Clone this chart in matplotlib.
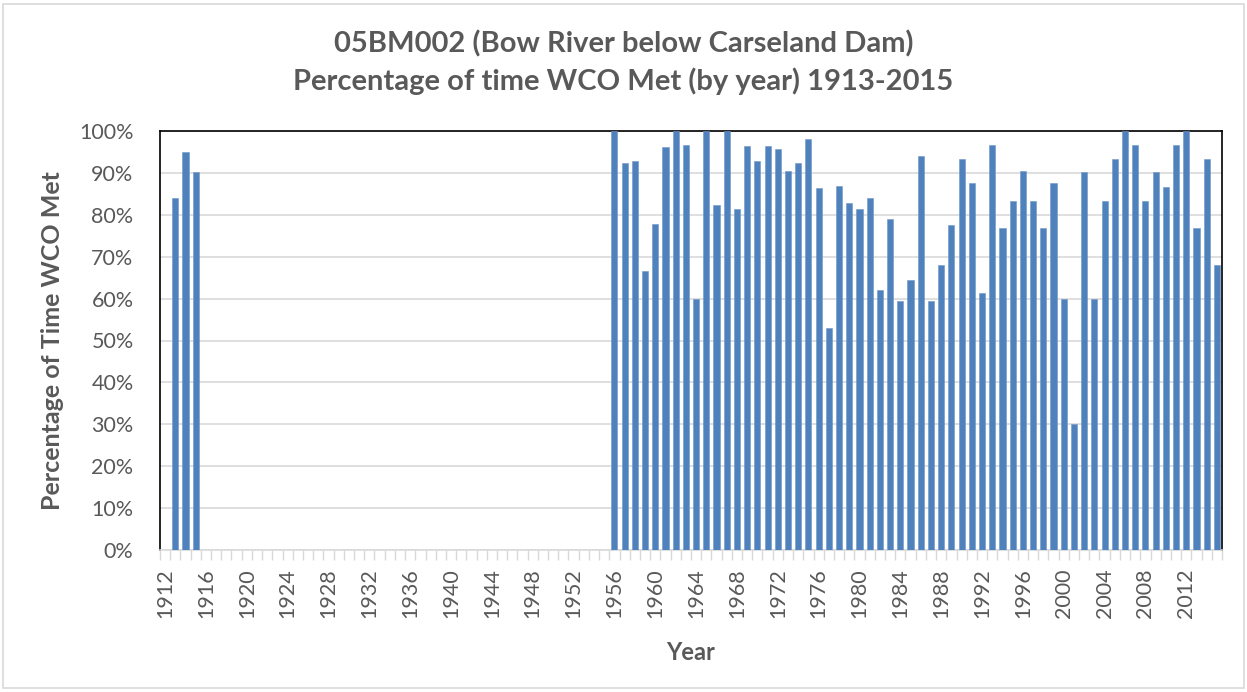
import matplotlib.pyplot as plt
from matplotlib.ticker import FixedLocator, PercentFormatter
from matplotlib.patches import Rectangle

# years with data (1912 and 1916-1955 are empty categories)
years = [1913, 1914, 1915] + list(range(1956, 2016))
# percentage of time WCO met
pct_met = [84.1, 94.9, 90.1,
           100, 92.4, 92.8, 66.7, 77.8, 96.2, 100, 96.7, 59.9, 100,
           82.3, 100, 81.5, 96.5, 92.8, 96.5, 95.6, 90.4, 92.3, 98.0,
           86.5, 53.1, 86.8, 82.8, 81.5, 83.9, 62.1, 78.9, 59.4, 64.4,
           94.1, 59.4, 67.9, 77.6, 93.2, 87.5, 61.3, 96.7, 76.8, 83.4,
           90.4, 83.4, 76.8, 87.5, 59.9, 30.0, 90.1, 59.9, 83.4, 93.2,
           100, 96.7, 83.4, 90.1, 86.7, 96.7, 100, 76.8, 93.2, 67.9]
first_year = 1912
last_year = 2015
label_years = list(range(1912, 2016, 4))

grey = '#595959'
bar_color = '#4f81bd'
plt.rcParams['font.family'] = ['Lato', 'DejaVu Sans']

fig = plt.figure(figsize=(12.47, 6.92), dpi=100)
ax = fig.add_axes([160 / 1247, 1 - 550 / 692, (1222 - 160) / 1247, (550 - 131) / 692])

ax.bar(years, pct_met, width=0.6, color=bar_color, edgecolor='#6f97c9',
       linewidth=0.4, zorder=3)

ax.set_xlim(first_year - 0.5, last_year + 0.5)
ax.set_ylim(0, 100)
ax.yaxis.set_major_locator(FixedLocator(range(0, 101, 10)))
ax.yaxis.set_major_formatter(PercentFormatter(100, decimals=0))
ax.grid(axis='y', color='#d9d9d9', linewidth=1.2, zorder=0)

# labels every 4 years, small tick marks on every category boundary
ax.set_xticks(label_years)
ax.set_xticklabels([str(y) for y in label_years], rotation=90)
ax.set_xticks([y - 0.5 for y in range(first_year, last_year + 2)], minor=True)
ax.tick_params(axis='x', which='major', length=0, pad=13, labelsize=15.5, labelcolor=grey)
ax.tick_params(axis='x', which='minor', length=7, color='#d9d9d9', width=1)
ax.tick_params(axis='y', length=0, pad=19, labelsize=15.5, labelcolor=grey)

for side in ['top', 'left', 'right']:
    ax.spines[side].set_color('black')
    ax.spines[side].set_linewidth(1.2)
ax.spines['bottom'].set_color('#d9d9d9')
ax.spines['bottom'].set_linewidth(1.2)

ax.set_xlabel('Year', fontsize=17, fontweight='bold', color=grey)
ax.xaxis.set_label_coords(0.5, (550 - 641) / 419)
ax.set_ylabel('Percentage of Time WCO Met', fontsize=18, fontweight='bold', color=grey)
ax.yaxis.set_label_coords((64 - 160) / 1062, 0.5)

fig.text(0.5, 1 - 44 / 692, '05BM002 (Bow River below Carseland Dam)', ha='center', va='center',
         fontsize=21, fontweight='bold', color=grey)
fig.text(0.5, 1 - 81 / 692, 'Percentage of time WCO Met (by year) 1913-2015', ha='center', va='center',
         fontsize=21, fontweight='bold', color=grey)

# chart area border
fig.patches.append(Rectangle((3 / 1247, 4 / 692), 1 - 6 / 1247, 1 - 8 / 692, transform=fig.transFigure,
                             fill=False, edgecolor='#d9d9d9', linewidth=1.2))

fig.savefig('out.png', dpi=100)
